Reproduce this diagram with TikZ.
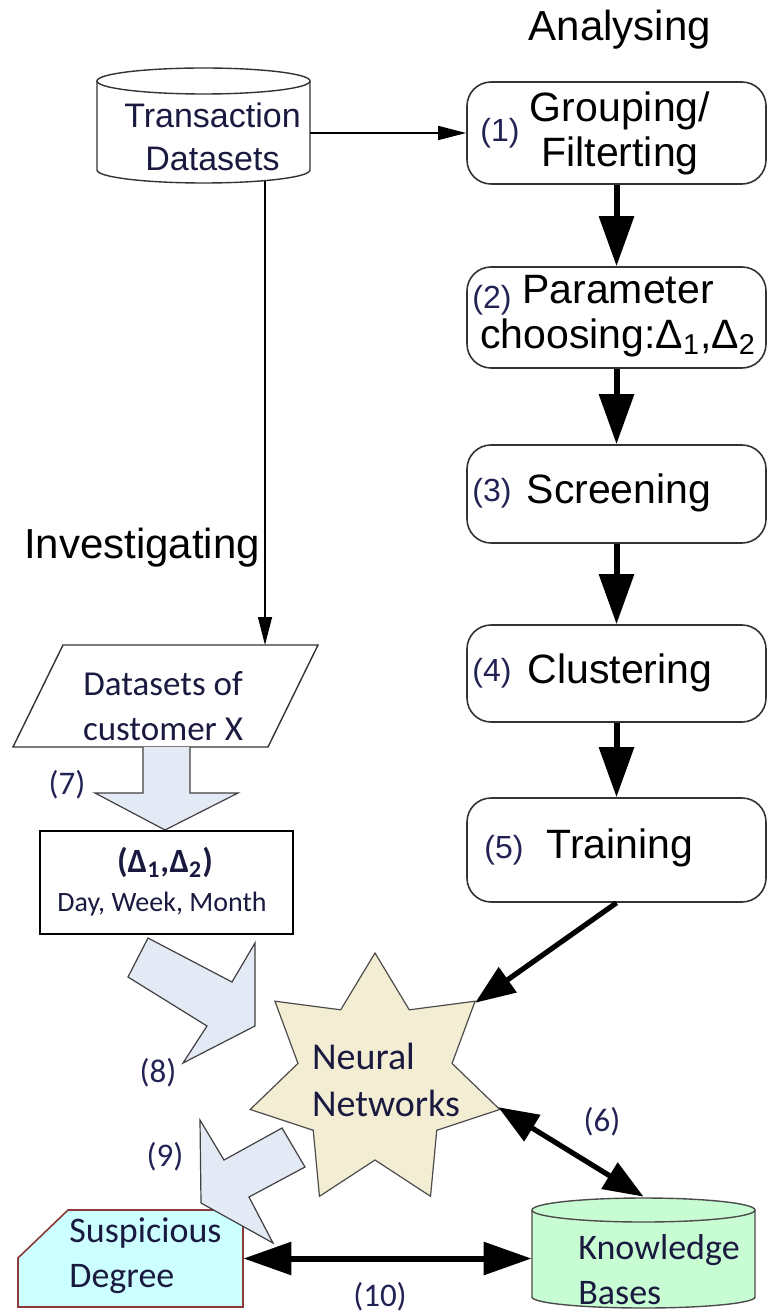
\documentclass[tikz,border=0pt]{standalone}
\usepackage{fontspec}
\setmainfont{Liberation Sans}
\newfontfamily\calfont{Carlito}
\usetikzlibrary{arrows.meta,shapes.geometric}
\definecolor{blockfill}{HTML}{E4EAF5}
\definecolor{starfill}{HTML}{F3EDD3}
\definecolor{kbfill}{HTML}{C8FDD3}
\definecolor{sdfill}{HTML}{CCFFFF}
\definecolor{sdborder}{HTML}{8B3A3A}
\definecolor{txtcol}{HTML}{1A1A40}
\definecolor{labcol}{HTML}{222255}
\tikzset{
  stepbox/.style={draw=black!80, line width=0.8pt, rounded corners=12pt, minimum width=149.5pt, inner sep=0pt},
  boxtext/.style={font=\fontsize{20.5}{22.5}\selectfont, align=center, text=black, inner sep=0pt},
  numlab/.style={font=\fontsize{16}{18}\selectfont, text=labcol, inner sep=0pt},
  callab/.style={font=\calfont\fontsize{16.5}{18}\selectfont, text=labcol, inner sep=0pt},
  caltext/.style={font=\calfont\fontsize{18}{22.5}\selectfont, text=txtcol, inner sep=0pt},
  fatarrow/.style={line width=3pt, -{Triangle[length=25pt,width=17pt]}},
  fatdouble/.style={line width=3pt, {Triangle[length=22pt,width=16pt]}-{Triangle[length=22pt,width=16pt]}},
  thinarrow/.style={line width=0.7pt, -{Triangle[length=14pt,width=7pt]}},
  blockarrow/.style={draw=black!75, line width=0.6pt, fill=blockfill, line join=miter},
  heading/.style={font=\fontsize{21}{24}\selectfont, inner sep=0pt}
}
\begin{document}
\begin{tikzpicture}[x=0.5pt,y=-0.5pt]
\useasboundingbox (0,0) rectangle (768,1315);

% headings
\node[heading] (ana) at (620,30) {Analysing};
\node[heading] (inv) at (142,548) {Investigating};

% Transaction Datasets cylinder
\draw[fill=white, line width=0.7pt, draw=black!80] (97,81) -- (97,170) arc[start angle=180,end angle=360,x radius=53.25pt,y radius=6.5pt] -- (310,81);
\draw[line width=0.7pt, draw=black!80] (203.5,81) ellipse[x radius=53.25pt,y radius=6.5pt];
\node[minimum width=106.5pt, minimum height=57.5pt, inner sep=0pt] (td) at (203.5,125.5) {};
\node[font=\fontsize{17}{21.5}\selectfont, align=center, text=txtcol, inner sep=0pt] (tdt) at (212.5,137) {Transaction\\Datasets};
\coordinate (tdout) at (265,181);

% right chain boxes
\node[stepbox, minimum height=51pt] (b1) at (616.5,133) {};
\node[stepbox, minimum height=50.5pt] (b2) at (616.5,317.5) {};
\node[stepbox, minimum height=49pt] (b3) at (616.5,494) {};
\node[stepbox, minimum height=48.5pt] (b4) at (616.5,673.5) {};
\node[stepbox, minimum height=52pt] (b5) at (616.5,850) {};

\node[boxtext] (b1t) at (620,133) {Grouping/\\Filterting};
\node[numlab] (n1) at (500,133) {(1)};
\node[boxtext] (b2t) at (618,316) {Parameter\\choosing:Δ\textsubscript{1},Δ\textsubscript{2}};
\node[numlab] (n2) at (492,300) {(2)};
\node[boxtext] (b3t) at (619,493) {Screening};
\node[numlab] (n3) at (492,493) {(3)};
\node[boxtext] (b4t) at (620,673) {Clustering};
\node[numlab] (n4) at (492,673) {(4)};
\node[boxtext] (b5t) at (620,848) {Training};
\node[numlab] (n5) at (504,850) {(5)};

\draw[fatarrow] (b1.south) -- (b2.north);
\draw[fatarrow] (b2.south) -- (b3.north);
\draw[fatarrow] (b3.south) -- (b4.north);
\draw[fatarrow] (b4.south) -- (b5.north);

% thin arrows from Transaction Datasets
\draw[thinarrow] (td.east |- b1.west) -- (b1.west);

% parallelogram
\draw[fill=white, line width=0.7pt, draw=black!80] (63,645) -- (318,645) -- (268,747) -- (13,747) -- cycle;
\coordinate (parN) at (265,645);
\node[caltext, font=\calfont\fontsize{17.5}{22.5}\selectfont, align=center] (part) at (163,706) {Datasets of\\customer X};
\draw[thinarrow] (tdout) -- (parN);

% block arrow 7
\draw[blockarrow] (143,747) -- (143,793) -- (95,793) -- (165,830) -- (238,793) -- (190,793) -- (190,747);
\node[callab] (l7) at (67,785) {(7)};

% delta box
\node[draw=black, line width=1.3pt, minimum width=126.5pt, minimum height=51.5pt, inner sep=0pt, fill=white] (dw) at (166.5,882.5) {};
\node[font=\calfont\bfseries\fontsize{17}{20}\selectfont, text=txtcol, inner sep=0pt] (dwt) at (165,862) {(Δ\textsubscript{1},Δ\textsubscript{2})};
\node[font=\calfont\fontsize{14}{16}\selectfont, text=txtcol, inner sep=0pt] (dwt2) at (162,904) {Day, Week, Month};

% neural network star
\node[star, star points=7, star point ratio=1.62, minimum size=128pt, inner sep=0pt, draw=black!70, line width=0.6pt, fill=starfill] (nn) at (375,1081) {};
\node[caltext, font=\calfont\fontsize{19}{23.5}\selectfont, align=left] (nnt) at (386,1080) {Neural\\Networks};

% knowledge bases cylinder
\draw[fill=kbfill, line width=0.7pt, draw=black!70] (532,1210) -- (532,1297) arc[start angle=180,end angle=360,x radius=55.75pt,y radius=5.5pt] -- (755,1210);
\draw[fill=kbfill, line width=0.7pt, draw=black!70] (643.5,1210) ellipse[x radius=55.75pt,y radius=6pt];
\node[minimum width=111.5pt, minimum height=55.5pt, inner sep=0pt] (kb) at (643.5,1252.5) {};
\node[caltext, align=left] (kbt) at (659,1270) {Knowledge\\Bases};

% suspicious degree
\draw[fill=sdfill, draw=sdborder, line width=0.8pt] (68,1210) -- (243,1210) -- (243,1307) -- (18,1307) -- (18,1258) -- cycle;
\node[minimum width=112.5pt, minimum height=48.5pt, inner sep=0pt] (sd) at (130.5,1258.5) {};
\node[caltext, align=left] (sdt) at (145.5,1256) {Suspicious\\Degree};

% block arrows 8 and 9
\draw[blockarrow] (148,938) -- (232,982) -- (255,943) -- (255,1026) -- (183,1063) -- (207,1026) -- (128,977) -- cycle;
\node[callab] (l8) at (158,1073) {(8)};
\draw[blockarrow] (200,1120) -- (224,1160) -- (282,1128) -- (305,1167) -- (249,1197) -- (273,1243) -- (201,1203) -- cycle;
\node[callab] (l9) at (165,1157) {(9)};

% fat arrows to/from star
\draw[line width=2.6pt, -{Triangle[length=20pt,width=15pt]}] (b5.south) -- (nn.38.57);
\draw[line width=2.6pt, {Triangle[length=20pt,width=15pt]}-{Triangle[length=20pt,width=15pt]}] (nn.-12.86) -- (kb.north);
\node[callab] (l6) at (602,1122) {(6)};
\draw[line width=3pt, {Triangle[length=24pt,width=16pt]}-{Triangle[length=24pt,width=16pt]}] (sd.east) -- (sd.east -| kb.west);
\node[callab] (l10) at (380,1297) {(10)};
\end{tikzpicture}
\end{document}
